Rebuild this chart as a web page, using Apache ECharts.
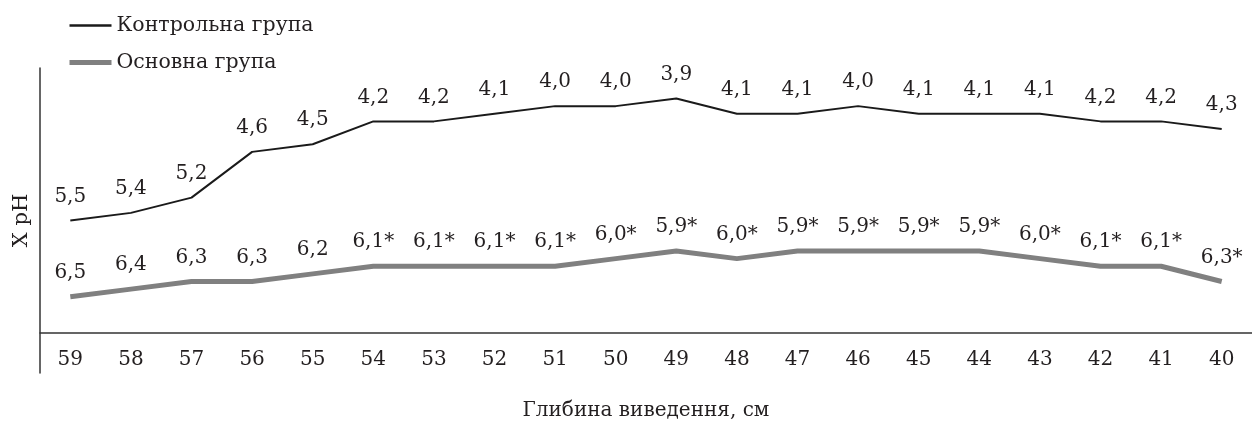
<!DOCTYPE html>
<html><head><meta charset="utf-8">
<script src="https://cdn.jsdelivr.net/npm/echarts@6/dist/echarts.min.js"></script>
<style>html,body{margin:0;padding:0;background:#fff}#c{width:1252px;height:430px}</style>
</head><body><div id="c"></div>
<script>
const categories = ['59','58','57','56','55','54','53','52','51','50','49','48','47','46','45','44','43','42','41','40'];
const controlValues = [5.5,5.4,5.2,4.6,4.5,4.2,4.2,4.1,4.0,4.0,3.9,4.1,4.1,4.0,4.1,4.1,4.1,4.2,4.2,4.3];
const mainValues = [6.5,6.4,6.3,6.3,6.2,6.1,6.1,6.1,6.1,6.0,5.9,6.0,5.9,5.9,5.9,5.9,6.0,6.1,6.1,6.3];
const mainMarks = [false,false,false,false,false,true,true,true,true,true,true,true,true,true,true,true,true,true,true,true];
const seriesNames = ['Контрольна група','Основна група'];

const FONT = 'DejaVu Serif';
const TXT = '#231f20';
const fmt = v => v.toFixed(1).replace('.', ',');
const chart = echarts.init(document.getElementById('c'), null, {renderer:'canvas'});
chart.setOption({
  animation:false,
  textStyle:{fontFamily:FONT,color:TXT},
  legend:{
    orient:'vertical', left:62, top:10, itemGap:16, itemWidth:42, itemHeight:20,
    textStyle:{fontFamily:FONT,fontSize:20.5,color:TXT},
    data:[
      {name:seriesNames[0], lineStyle:{width:2.5,color:'#1a1a1a'}},
      {name:seriesNames[1], lineStyle:{width:5,color:'#808080'}}
    ]
  },
  grid:{left:40,right:-4,top:68,bottom:57},
  xAxis:{
    type:'category', data:categories, boundaryGap:true, offset:-40,
    axisLine:{lineStyle:{color:'#333',width:1.5}},
    axisTick:{alignWithLabel:true,length:6,lineStyle:{color:'#333',width:1.5}},
    axisLabel:{fontFamily:FONT,fontSize:20,color:TXT,margin:17},
    name:'Глибина виведення, см', nameLocation:'middle', nameGap:68,
    nameTextStyle:{fontFamily:FONT,fontSize:20,color:TXT}
  },
  yAxis:{
    type:'value', inverse:true, min:3.5, max:7.5,
    axisLine:{show:true,lineStyle:{color:'#333',width:1.5}},
    axisTick:{show:false}, axisLabel:{show:false}, splitLine:{show:false},
    name:'X pH', nameLocation:'middle', nameGap:8, nameRotate:90, nameTextStyle:{fontFamily:FONT,fontSize:21,color:TXT}
  },
  series:[
    {name:seriesNames[0], type:'line', data:controlValues, symbol:'circle', symbolSize:0.1, showSymbol:true,
     lineStyle:{color:'#1a1a1a',width:2}, itemStyle:{color:'#1a1a1a',opacity:0},
     label:{show:true,position:'top',distance:14,fontFamily:FONT,fontSize:20,color:TXT,opacity:1,
            formatter:p=>fmt(p.value)}},
    {name:seriesNames[1], type:'line', data:mainValues, symbol:'circle', symbolSize:0.1, showSymbol:true,
     lineStyle:{color:'#808080',width:5}, itemStyle:{color:'#808080',opacity:0},
     label:{show:true,position:'top',distance:14,fontFamily:FONT,fontSize:20,color:TXT,opacity:1,
            formatter:p=>fmt(p.value)+(mainMarks[p.dataIndex]?'*':'')}}
  ]
});
</script></body></html>
